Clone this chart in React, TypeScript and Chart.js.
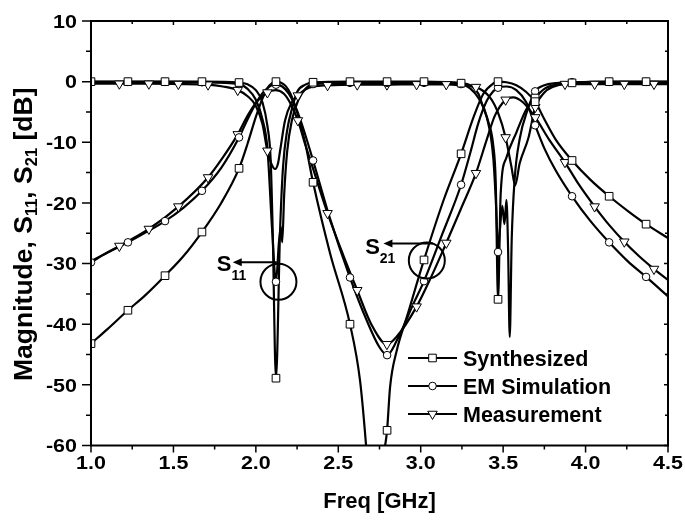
import React, { useEffect, useRef } from "react";
import { Chart, registerables } from "chart.js";

Chart.register(...registerables);

type P = [number, number];

// ---- axis / legend text ----
const xTickValues = [1.0, 1.5, 2.0, 2.5, 3.0, 3.5, 4.0, 4.5];
const yTickValues = [10, 0, -10, -20, -30, -40, -50, -60];
const legendLabels = ["Synthesized", "EM Simulation", "Measurement"];
const xTitle = "Freq [GHz]";

// ---- marker positions (x) ----
const sqCircMarkX = [1.0, 1.224, 1.449, 1.673, 1.898, 2.122, 2.347, 2.571, 2.796, 3.02, 3.245, 3.469, 3.694, 3.918, 4.143, 4.367];
const triMarkX = [1.172, 1.351, 1.53, 1.71, 1.89, 2.07, 2.255, 2.435, 2.615, 2.795, 2.975, 3.155, 3.335, 3.515, 3.695, 3.875, 4.055, 4.235, 4.415];

// ---- Synthesized ----
const synS21: P[] = [
  [1.0, -43.2], [1.1, -40.8], [1.224, -37.7], [1.33, -35.2], [1.449, -32.0], [1.56, -28.8], [1.673, -24.8], [1.79, -20.0],
  [1.898, -14.3], [1.95, -10.2], [2.0, -5.8], [2.04, -2.8], [2.07, -1.1], [2.1, -0.2], [2.122, 0], [2.15, -0.15], [2.18, -0.7],
  [2.21, -2.0], [2.25, -5.0], [2.3, -10.2], [2.347, -16.6], [2.45, -28.3], [2.571, -40.0], [2.632, -49.3], [2.67, -60.5],
  [2.7, -72], [2.725, -85], [2.755, -70], [2.78, -61], [2.796, -57.5], [2.814, -50.4], [2.855, -44.3], [2.916, -38.8],
  [3.02, -29.4], [3.138, -19.6], [3.245, -11.9], [3.32, -5.9], [3.38, -2.0], [3.44, -0.3], [3.469, 0], [3.52, -0.1],
  [3.58, -0.6], [3.64, -1.7], [3.694, -3.3], [3.75, -6.2], [3.82, -9.6], [3.918, -13.0], [4.03, -16.2], [4.143, -18.9],
  [4.255, -21.3], [4.367, -23.5], [4.5, -25.8],
];
const synS11: P[] = [
  [1.0, 0], [1.224, 0], [1.449, 0], [1.673, 0], [1.898, -0.15], [1.95, -0.45], [2.0, -1.4], [2.04, -3.4], [2.07, -7.3],
  [2.09, -13.0], [2.102, -24.5], [2.122, -48.9], [2.147, -24.5], [2.165, -14.0], [2.19, -8.0], [2.22, -4.4], [2.25, -1.7],
  [2.3, -0.5], [2.347, -0.1], [2.571, 0], [2.796, 0], [3.02, 0], [3.245, -0.25], [3.3, -0.6], [3.35, -2.0], [3.38, -4.3],
  [3.41, -6.6], [3.44, -10.5], [3.455, -16.5], [3.469, -35.9], [3.485, -18.5], [3.52, -12.5], [3.58, -8.4], [3.64, -4.6],
  [3.694, -2.7], [3.75, -1.2], [3.82, -0.5], [3.918, -0.2], [4.143, 0], [4.367, 0], [4.5, 0],
];

// ---- EM Simulation ----
const emS21: P[] = [
  [1.0, -29.8], [1.1, -28.2], [1.224, -26.5], [1.33, -24.9], [1.449, -23.0], [1.56, -20.8], [1.673, -18.0], [1.79, -14.2],
  [1.898, -9.2], [1.95, -6.2], [2.0, -3.6], [2.05, -1.6], [2.09, -0.7], [2.122, -0.5], [2.16, -0.8], [2.2, -2.0], [2.25, -4.8],
  [2.3, -8.8], [2.347, -13.0], [2.45, -22.6], [2.571, -32.3], [2.673, -39.4], [2.75, -43.8], [2.796, -45.1], [2.855, -42.7],
  [2.956, -36.6], [3.02, -32.9], [3.13, -25.2], [3.245, -17.0], [3.3, -11.8], [3.35, -6.8], [3.4, -3.2], [3.44, -1.6],
  [3.469, -1.0], [3.52, -0.8], [3.58, -1.4], [3.64, -3.4], [3.694, -7.2], [3.75, -11.0], [3.82, -14.7], [3.918, -18.9],
  [4.03, -23.0], [4.143, -26.5], [4.255, -29.6], [4.367, -32.2], [4.5, -35.4],
];
const emS11: P[] = [
  [1.0, -0.05], [1.224, -0.05], [1.449, -0.05], [1.673, -0.1], [1.898, -0.4], [1.95, -1.2], [2.0, -3.0], [2.04, -6.2],
  [2.07, -11.0], [2.1, -25.0], [2.122, -33.0], [2.14, -26.5], [2.152, -24.0], [2.16, -26.5], [2.172, -18.5], [2.19, -11.5],
  [2.22, -6.2], [2.26, -2.9], [2.3, -1.2], [2.347, -0.4], [2.571, -0.2], [2.796, -0.2], [3.02, -0.2], [3.245, -0.4],
  [3.3, -1.1], [3.35, -2.7], [3.4, -5.8], [3.44, -12.5], [3.458, -21.0], [3.469, -28.1], [3.48, -24.5], [3.495, -20.5],
  [3.508, -23.5], [3.52, -19.5], [3.53, -27.5], [3.54, -42.1], [3.552, -26.0], [3.57, -16.0], [3.6, -9.5], [3.65, -4.5],
  [3.694, -1.6], [3.75, -0.6], [3.82, -0.25], [3.918, -0.1], [4.143, -0.05], [4.367, -0.05], [4.5, -0.05],
];

// ---- Measurement ----
const measS21: P[] = [
  [1.0, -29.6], [1.172, -27.1], [1.351, -24.3], [1.53, -20.6], [1.71, -15.8], [1.8, -12.5], [1.89, -8.7], [1.95, -5.6],
  [2.0, -3.5], [2.07, -1.8], [2.12, -1.4], [2.17, -2.0], [2.21, -3.6], [2.255, -6.4], [2.3, -10.4], [2.35, -14.6],
  [2.435, -21.7], [2.53, -28.6], [2.615, -34.4], [2.7, -40.0], [2.795, -43.3], [2.85, -42.2], [2.975, -37.1], [3.06, -32.4],
  [3.155, -26.6], [3.245, -20.9], [3.335, -15.1], [3.4, -9.6], [3.45, -5.6], [3.515, -3.0], [3.56, -2.6], [3.62, -3.4],
  [3.695, -5.9], [3.78, -9.6], [3.875, -13.3], [3.96, -17.0], [4.055, -20.6], [4.145, -23.7], [4.235, -26.4], [4.325, -28.8],
  [4.415, -30.9], [4.5, -32.7],
];
const measS11: P[] = [
  [1.0, -0.35], [1.172, -0.35], [1.351, -0.35], [1.53, -0.4], [1.71, -0.5], [1.8, -0.8], [1.89, -1.4], [1.95, -2.4],
  [2.0, -4.0], [2.04, -7.0], [2.07, -11.4], [2.095, -13.6], [2.117, -14.4], [2.135, -13.4], [2.147, -11.4], [2.177, -6.4],
  [2.218, -3.4], [2.255, -2.3], [2.3, -1.3], [2.35, -0.8], [2.435, -0.6], [2.615, -0.5], [2.795, -0.5], [2.975, -0.45],
  [3.155, -0.45], [3.25, -0.6], [3.335, -0.9], [3.42, -2.6], [3.47, -5.2], [3.515, -9.2], [3.55, -14.0], [3.573, -17.1],
  [3.6, -13.5], [3.654, -9.2], [3.695, -4.2], [3.75, -1.8], [3.8, -0.9], [3.875, -0.4], [4.055, -0.4], [4.235, -0.4],
  [4.415, -0.4], [4.5, -0.4],
];

const FONT = '"Liberation Sans", Arial, Helvetica, sans-serif';

type Style = "rect" | "circle" | "triangle";

function drawMarker(ctx: CanvasRenderingContext2D, style: Style, x: number, y: number) {
  ctx.save();
  ctx.fillStyle = "#fff";
  ctx.strokeStyle = "#000";
  ctx.lineWidth = 1;
  ctx.beginPath();
  if (style === "rect") {
    const s = 3.8;
    ctx.rect(x - s, y - s, 2 * s, 2 * s);
  } else if (style === "circle") {
    ctx.arc(x, y, 3.8, 0, Math.PI * 2);
  } else {
    const r = 5.5;
    ctx.moveTo(x, y + r);
    ctx.lineTo(x - r * 0.866, y - r * 0.5);
    ctx.lineTo(x + r * 0.866, y - r * 0.5);
    ctx.closePath();
  }
  ctx.fill();
  ctx.stroke();
  ctx.restore();
}

function drawSubText(
  ctx: CanvasRenderingContext2D,
  parts: { t: string; sub?: boolean }[],
  x: number,
  y: number,
  size: number,
  subSize: number,
  subDrop: number,
  align: "left" | "center"
) {
  const mainFont = `bold ${size}px ${FONT}`;
  const subFont = `bold ${subSize}px ${FONT}`;
  let total = 0;
  for (const p of parts) {
    ctx.font = p.sub ? subFont : mainFont;
    total += ctx.measureText(p.t).width;
  }
  let cx = align === "center" ? x - total / 2 : x;
  ctx.textAlign = "left";
  ctx.textBaseline = "alphabetic";
  for (const p of parts) {
    ctx.font = p.sub ? subFont : mainFont;
    ctx.fillText(p.t, cx, p.sub ? y + subDrop : y);
    cx += ctx.measureText(p.t).width;
  }
}

function stretchedText(
  ctx: CanvasRenderingContext2D,
  text: string,
  x: number,
  y: number,
  sx: number,
  align: "left" | "right" | "center"
) {
  ctx.save();
  ctx.translate(x, y);
  ctx.scale(sx, 1);
  ctx.textAlign = align;
  ctx.textBaseline = "alphabetic";
  ctx.fillText(text, 0, 0);
  ctx.restore();
}

const annotations = [
  { cx: 2.137, cy: -33.0, ax0: 2.127, ax1: 1.86, ay: -29.8, lx: 1.763, ly: -31.3, sub: "11" },
  { cx: 3.037, cy: -29.5, ax0: 3.075, ax1: 2.774, ay: -26.7, lx: 2.663, ly: -28.4, sub: "21" },
];

const overlayPlugin = {
  id: "overlay",
  afterDraw(chart: any) {
    const { ctx, chartArea: ca } = chart;
    const xs = chart.scales.x;
    const ys = chart.scales.y;
    ctx.save();
    ctx.strokeStyle = "#000";
    ctx.fillStyle = "#000";

    // annotations
    for (const a of annotations) {
      const cx = xs.getPixelForValue(a.cx);
      const cy = ys.getPixelForValue(a.cy);
      ctx.lineWidth = 2;
      ctx.beginPath();
      ctx.arc(cx, cy, 18, 0, Math.PI * 2);
      ctx.stroke();
      const ax0 = xs.getPixelForValue(a.ax0);
      const ax1 = xs.getPixelForValue(a.ax1);
      const ay = ys.getPixelForValue(a.ay);
      ctx.beginPath();
      ctx.moveTo(ax0, ay);
      ctx.lineTo(ax1 + 6, ay);
      ctx.stroke();
      ctx.beginPath();
      ctx.moveTo(ax1, ay);
      ctx.lineTo(ax1 + 9, ay - 4);
      ctx.lineTo(ax1 + 9, ay + 4);
      ctx.closePath();
      ctx.fill();
      drawSubText(
        ctx,
        [{ t: "S" }, { t: a.sub, sub: true }],
        xs.getPixelForValue(a.lx),
        ys.getPixelForValue(a.ly),
        22,
        14,
        9,
        "left"
      );
    }

    // frame
    ctx.lineWidth = 2;
    ctx.strokeRect(ca.left, ca.top, ca.right - ca.left, ca.bottom - ca.top);

    // ticks
    ctx.lineWidth = 1.5;
    ctx.beginPath();
    for (let i = 0; i <= 14; i++) {
      const v = -60 + i * 5;
      const py = ys.getPixelForValue(v);
      const major = i % 2 === 0;
      ctx.moveTo(ca.left, py);
      ctx.lineTo(ca.left - (major ? 9 : 5), py);
      ctx.moveTo(ca.right, py);
      ctx.lineTo(ca.right - (major ? 4 : 3), py);
    }
    for (let i = 0; i <= 14; i++) {
      const v = 1 + i * 0.25;
      const px = xs.getPixelForValue(v);
      const major = i % 2 === 0;
      ctx.moveTo(px, ca.bottom);
      ctx.lineTo(px, ca.bottom + (major ? 7 : 4));
      ctx.moveTo(px, ca.top);
      ctx.lineTo(px, ca.top + (major ? 4 : 3));
    }
    ctx.stroke();

    // tick labels
    const tickSize = 19;
    const sx = 1.13;
    ctx.font = `bold ${tickSize}px ${FONT}`;
    for (const v of yTickValues) {
      const py = ys.getPixelForValue(v);
      stretchedText(ctx, String(v), ca.left - 14, py + (tickSize * 0.716) / 2, sx, "right");
    }
    for (const v of xTickValues) {
      const px = xs.getPixelForValue(v);
      stretchedText(ctx, v.toFixed(1), px, ca.bottom + 23.5, sx, "center");
    }

    // axis titles
    ctx.font = `bold 22px ${FONT}`;
    ctx.textAlign = "center";
    ctx.textBaseline = "alphabetic";
    ctx.fillText(xTitle, (ca.left + ca.right) / 2, ca.bottom + 62);

    ctx.save();
    ctx.translate(32, (ca.top + ca.bottom) / 2 + 1);
    ctx.rotate(-Math.PI / 2);
    drawSubText(
      ctx,
      [{ t: "Magnitude, S" }, { t: "11", sub: true }, { t: ", S" }, { t: "21", sub: true }, { t: " [dB]" }],
      0,
      0,
      26.5,
      16.5,
      5,
      "center"
    );
    ctx.restore();

    // legend
    const styles: Style[] = ["rect", "circle", "triangle"];
    const lx0 = ca.left + 317;
    const lx1 = ca.left + 366;
    const ltx = ca.left + 372;
    for (let i = 0; i < 3; i++) {
      const ry = ca.top + 337 + i * 28;
      ctx.lineWidth = 2;
      ctx.beginPath();
      ctx.moveTo(lx0, ry);
      ctx.lineTo(lx1, ry);
      ctx.stroke();
      drawMarker(ctx, styles[i], (lx0 + lx1) / 2, ry);
      ctx.fillStyle = "#000";
      ctx.font = `bold 21.5px ${FONT}`;
      ctx.textAlign = "left";
      ctx.textBaseline = "alphabetic";
      ctx.fillText(legendLabels[i], ltx, ry + (21.5 * 0.716) / 2);
    }
    ctx.restore();
  },
};

const toXY = (arr: P[]) => arr.map(([x, y]) => ({ x, y }));
const pick = (arr: P[], marks: number[]) =>
  arr.filter(([x]) => marks.some((m) => Math.abs(m - x) < 0.003)).map(([x, y]) => ({ x, y }));

export default function App() {
  const canvasRef = useRef<HTMLCanvasElement | null>(null);

  useEffect(() => {
    if (!canvasRef.current) return;
    const curves: { data: P[]; style: Style; marks: number[] }[] = [
      { data: synS21, style: "rect", marks: sqCircMarkX },
      { data: synS11, style: "rect", marks: sqCircMarkX },
      { data: emS21, style: "circle", marks: sqCircMarkX },
      { data: emS11, style: "circle", marks: sqCircMarkX },
      { data: measS21, style: "triangle", marks: triMarkX },
      { data: measS11, style: "triangle", marks: triMarkX },
    ];
    const lineSets = curves.map((c) => ({
      data: toXY(c.data),
      borderColor: "#000",
      borderWidth: 2.2,
      pointRadius: 0,
      cubicInterpolationMode: "monotone" as const,
      fill: false,
      order: 2,
    }));
    const markSets = curves.map((c) => ({
      data: pick(c.data, c.marks),
      showLine: false,
      pointStyle: c.style,
      pointRadius: c.style === "rect" ? 5.4 : c.style === "circle" ? 3.8 : 5.5,
      pointRotation: c.style === "triangle" ? 180 : 0,
      pointBackgroundColor: "#fff",
      pointBorderColor: "#000",
      pointBorderWidth: 1,
      borderColor: "#000",
      order: 1,
    }));

    const chart = new Chart(canvasRef.current, {
      type: "line",
      data: { datasets: [...lineSets, ...markSets] as any },
      options: {
        responsive: false,
        animation: false,
        layout: { padding: { top: 21, right: 17, left: 0, bottom: 0 } },
        plugins: { legend: { display: false }, tooltip: { enabled: false } },
        events: [],
        scales: {
          x: {
            type: "linear",
            min: 1,
            max: 4.5,
            ticks: { display: false },
            grid: { display: false, drawTicks: false },
            border: { display: false },
            afterFit: (s: any) => {
              s.height = 75.5;
            },
          },
          y: {
            type: "linear",
            min: -60,
            max: 10,
            ticks: { display: false },
            grid: { display: false, drawTicks: false },
            border: { display: false },
            afterFit: (s: any) => {
              s.width = 91;
            },
          },
        },
      },
      plugins: [overlayPlugin],
    });
    return () => chart.destroy();
  }, []);

  return (
    <div style={{ position: "absolute", left: 0, top: 0, width: 685, height: 521, background: "#fff" }}>
      <canvas ref={canvasRef} width={685} height={521} style={{ display: "block" }} />
    </div>
  );
}
